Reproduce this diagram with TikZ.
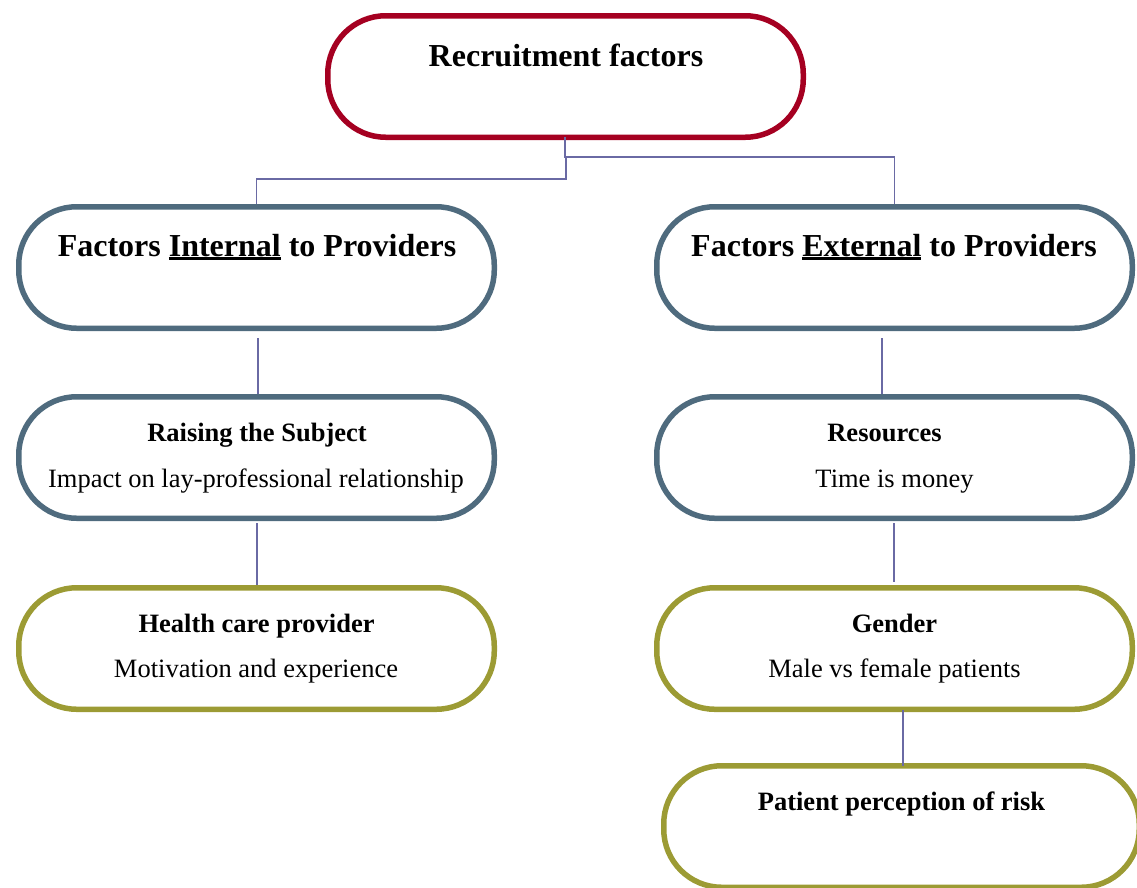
\documentclass[tikz,border=0pt]{standalone}
\usepackage{fontspec}
\setmainfont{Liberation Serif}
\usetikzlibrary{calc}
\definecolor{myred}{RGB}{165,0,33}
\definecolor{myslate}{RGB}{79,107,126}
\definecolor{myolive}{RGB}{156,155,52}
\definecolor{myconn}{RGB}{106,106,164}
\newcommand{\myul}[1]{\setbox0\hbox{#1}\leavevmode\rlap{\rule[-4pt]{\wd0}{2.6pt}}\box0\relax}
\tikzset{
  box/.style={draw, line width=5.5pt, rounded corners=58pt, minimum width=475.5pt, minimum height=121.5pt, inner sep=0pt},
  redbox/.style={box, draw=myred},
  slatebox/.style={box, draw=myslate},
  olivebox/.style={box, draw=myolive},
  bigtxt/.style={anchor=base, inner sep=0pt, font=\fontsize{32}{38}\selectfont\bfseries},
  headtxt/.style={anchor=base, inner sep=0pt, font=\fontsize{26.5}{32}\selectfont\bfseries},
  bodytxt/.style={anchor=base, inner sep=0pt, font=\fontsize{26.5}{32}\selectfont},
  conn/.style={draw=myconn, line width=1.5pt}
}
\begin{document}
\begin{tikzpicture}[x=1pt,y=-1pt]
\useasboundingbox (0,0) rectangle (1137,887);
% boxes
\node[redbox]   (top)  at (565.5,76.5) {};
\node[slatebox] (int)  at (256.5,267.5) {};
\node[slatebox] (ext)  at (894.5,267.5) {};
\node[slatebox] (rai)  at (256.5,457.5) {};
\node[slatebox] (res)  at (894.5,457.5) {};
\node[olivebox] (hcp)  at (256.5,648.5) {};
\node[olivebox] (gen)  at (894.5,648.5) {};
\node[olivebox] (pat)  at (901.5,826.5) {};
% texts
\node[bigtxt] (ttop) at (566,66) {Recruitment factors};
\node[bigtxt] (tint) at (257,256) {Factors \myul{Internal} to Providers};
\node[bigtxt] (text) at (894,256) {Factors \myul{External} to Providers};
\node[headtxt] (trai1) at (257,441) {Raising the Subject};
\node[bodytxt] (trai2) at (256,487) {Impact on lay-professional relationship};
\node[headtxt] (tres1) at (884.5,441) {Resources};
\node[bodytxt] (tres2) at (894.5,487) {Time is money};
\node[headtxt] (thcp1) at (256.5,632) {Health care provider};
\node[bodytxt] (thcp2) at (256,677) {Motivation and experience};
\node[headtxt] (tgen1) at (894.5,632) {Gender};
\node[bodytxt] (tgen2) at (894.5,677) {Male vs female patients};
\node[headtxt] (tpat1) at (901.5,810) {Patient perception of risk};
% connectors
\draw[conn] ($(top.south)+(-0.5,-3)$) -- ++(0,20) -| (ext.north);
\draw[conn] ($(top.south)+(0.5,17)$) -- ++(0,22) -| (int.north);
\draw[conn] ($(int.south)+(1.5,7)$) -- ($(rai.north)+(1.5,0)$);
\draw[conn] ($(rai.south)+(0.5,2)$) -- ($(hcp.north)+(0.5,0)$);
\draw[conn] ($(ext.south)+(-12.5,7)$) -- ($(res.north)+(-12.5,0)$);
\draw[conn] ($(res.south)+(-0.5,2)$) -- ($(gen.north)+(-0.5,-3)$);
\draw[conn] ($(gen.south)+(8.5,-2)$) -- ($(pat.north)+(1.5,3)$);
\end{tikzpicture}
\end{document}
